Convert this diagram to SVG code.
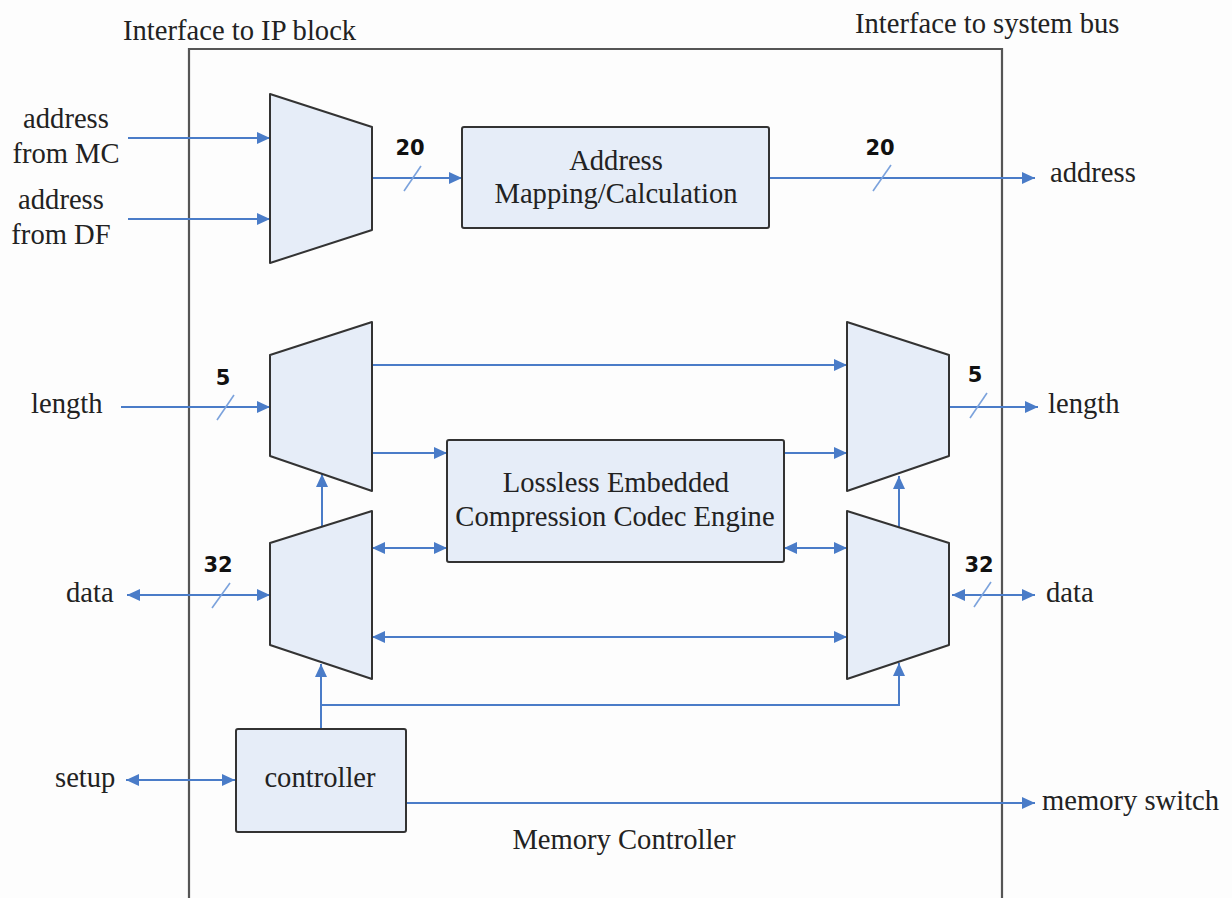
<svg xmlns="http://www.w3.org/2000/svg" width="1232" height="898" viewBox="0 0 1232 898">
  <style>
    .lbl { font-family: "Liberation Serif", "Times New Roman", serif; font-size: 28.6px; fill: #222; }
    .mid { text-anchor: middle; }
    .bw { font-family: "DejaVu Sans", "Liberation Sans", sans-serif; font-size: 21px; font-weight: bold; fill: #111; text-anchor: middle; }
    .blk { fill: #e6edf8; stroke: #333; stroke-width: 2; stroke-linejoin: round; }
    .wire { fill: none; stroke: #4a7cc8; stroke-width: 2; }
    .slash { fill: none; stroke: #7ba2dc; stroke-width: 1.6; }
    .frame { fill: none; stroke: #555; stroke-width: 2.2; }
  </style>
  <defs>
    <marker id="ah" markerUnits="userSpaceOnUse" markerWidth="14" markerHeight="12" refX="13" refY="6" orient="auto-start-reverse">
      <path d="M0,0 L13,6 L0,12 z" fill="#4a7cc8"/>
    </marker>
  </defs>

  <rect width="1232" height="898" fill="#fdfdfd"/>

  <!-- memory controller boundary (open at the bottom) -->
  <path class="frame" d="M189,898 V49 H1002 V898"/>
  <text class="lbl" x="123" y="40">Interface to IP block</text>
  <text class="lbl" x="855" y="33">Interface to system bus</text>
  <text class="lbl mid" x="624" y="849">Memory Controller</text>

  <!-- connectors -->
  <g id="connectors">
    <path class="wire" d="M128,138 H270" marker-end="url(#ah)"/>
    <path class="wire" d="M128,219 H270" marker-end="url(#ah)"/>
    <path class="wire" d="M372,178 H462" marker-end="url(#ah)"/>
    <path class="wire" d="M769,178 H1035" marker-end="url(#ah)"/>
    <path class="wire" d="M121,407 H270" marker-end="url(#ah)"/>
    <path class="wire" d="M372,365 H847" marker-end="url(#ah)"/>
    <path class="wire" d="M372,453 H447" marker-end="url(#ah)"/>
    <path class="wire" d="M784,453 H847" marker-end="url(#ah)"/>
    <path class="wire" d="M949,407 H1038" marker-end="url(#ah)"/>
    <path class="wire" d="M322,527 V474" marker-end="url(#ah)"/>
    <path class="wire" d="M899,527 V476" marker-end="url(#ah)"/>
    <path class="wire" d="M372,548 H447" marker-start="url(#ah)" marker-end="url(#ah)"/>
    <path class="wire" d="M784,548 H847" marker-start="url(#ah)" marker-end="url(#ah)"/>
    <path class="wire" d="M127,595 H270" marker-start="url(#ah)" marker-end="url(#ah)"/>
    <path class="wire" d="M952,595 H1035" marker-start="url(#ah)" marker-end="url(#ah)"/>
    <path class="wire" d="M372,637 H847" marker-start="url(#ah)" marker-end="url(#ah)"/>
    <path class="wire" d="M321,729 V664" marker-end="url(#ah)"/>
    <path class="wire" d="M321,705 H899 V663" marker-end="url(#ah)"/>
    <path class="wire" d="M126,780 H235" marker-start="url(#ah)" marker-end="url(#ah)"/>
    <path class="wire" d="M406,803 H1035" marker-end="url(#ah)"/>

    <!-- bus-width ticks -->
    <path class="slash" d="M404,191 L421,166"/>
    <path class="slash" d="M873,191 L891,165"/>
    <path class="slash" d="M217,420 L234,395"/>
    <path class="slash" d="M970,418 L987,393"/>
    <path class="slash" d="M212,608 L230,583"/>
    <path class="slash" d="M974,607 L991,582"/>
    <text class="bw" x="410" y="155">20</text>
    <text class="bw" x="880" y="155">20</text>
    <text class="bw" x="223" y="385">5</text>
    <text class="bw" x="975" y="382">5</text>
    <text class="bw" x="218" y="572">32</text>
    <text class="bw" x="979" y="572">32</text>
  </g>

  <!-- external signal names -->
  <g id="ports">
    <text class="lbl mid" x="66" y="128">address</text>
    <text class="lbl mid" x="66" y="163">from MC</text>
    <text class="lbl mid" x="61" y="209">address</text>
    <text class="lbl mid" x="61" y="244">from DF</text>
    <text class="lbl" x="31" y="413">length</text>
    <text class="lbl" x="66" y="602">data</text>
    <text class="lbl" x="55" y="787">setup</text>
    <text class="lbl" x="1050" y="182">address</text>
    <text class="lbl" x="1048" y="413">length</text>
    <text class="lbl" x="1046" y="602">data</text>
    <text class="lbl" x="1042" y="810">memory switch</text>
  </g>

  <!-- multiplexers -->
  <g id="mux-address"><path class="blk" d="M270,94 L372,127 L372,230 L270,263 Z"/></g>
  <g id="mux-length-in"><path class="blk" d="M270,355 L372,322 L372,491 L270,456 Z"/></g>
  <g id="mux-data-in"><path class="blk" d="M270,543 L372,511 L372,679 L270,645 Z"/></g>
  <g id="mux-length-out"><path class="blk" d="M847,322 L949,355 L949,456 L847,491 Z"/></g>
  <g id="mux-data-out"><path class="blk" d="M847,511 L949,543 L949,645 L847,679 Z"/></g>

  <!-- function blocks -->
  <g id="address-mapping">
    <rect class="blk" x="462" y="127" width="307" height="101" rx="2"/>
    <text class="lbl mid" x="616" y="170">Address</text>
    <text class="lbl mid" x="616" y="203">Mapping/Calculation</text>
  </g>
  <g id="codec-engine">
    <rect class="blk" x="447" y="440" width="337" height="122" rx="2"/>
    <text class="lbl mid" x="616" y="492">Lossless Embedded</text>
    <text class="lbl mid" x="615" y="526">Compression Codec Engine</text>
  </g>
  <g id="controller">
    <rect class="blk" x="236" y="729" width="170" height="103" rx="2"/>
    <text class="lbl mid" x="320" y="787">controller</text>
  </g>
</svg>
